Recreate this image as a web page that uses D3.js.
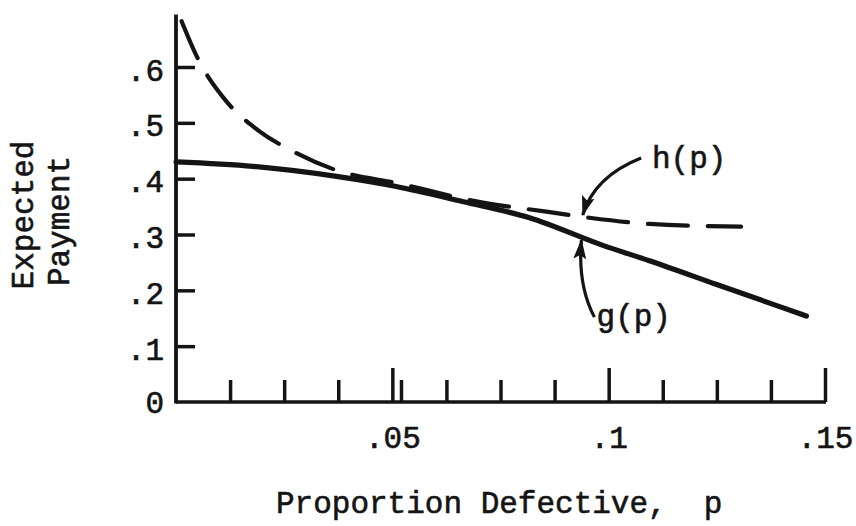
<!DOCTYPE html>
<html>
<head>
<meta charset="utf-8">
<script src="https://cdn.jsdelivr.net/npm/d3@7"></script>
<style>
  html, body { margin: 0; padding: 0; background: #fff; }
  svg { display: block; }
  text { font-family: "Liberation Mono", "Courier New", monospace; fill: #141414; stroke: #141414; stroke-width: 0.6px; }
</style>
</head>
<body>
<svg id="chart" width="856" height="526"></svg>
<script>
// Proportion defective p and expected payment for each curve
const hP = [0.0013, 0.0048, 0.0117, 0.0189, 0.0270, 0.0367, 0.0517, 0.0709, 0.0856, 0.0955, 0.1094, 0.1306];
const hValues = [0.682, 0.619, 0.538, 0.487, 0.449, 0.416, 0.391, 0.357, 0.341, 0.330, 0.319, 0.314];

const gP = [0, 0.0178, 0.0371, 0.0509, 0.0662, 0.0817, 0.0985, 0.1094, 0.1248, 0.1457];
const gValues = [0.430, 0.422, 0.404, 0.386, 0.359, 0.330, 0.281, 0.253, 0.211, 0.154];

// Axis ticks and their labels
const yTicks = [0, 0.1, 0.2, 0.3, 0.4, 0.5, 0.6];
const yTickLabels = ["0", ".1", ".2", ".3", ".4", ".5", ".6"];
const xMajorTicks = [0.05, 0.1, 0.15];
const xMajorLabels = [".05", ".1", ".15"];
const xMinorTicks = [0.0125, 0.025, 0.0375, 0.052, 0.0625, 0.075, 0.0875, 0.1125, 0.125, 0.1375];

// Curve labels: [p, value] of label text, arrow start, arrow bend, arrow tip
const hLabel = { text: "h(p)", at: [0.1100, 0.419], from: [0.1075, 0.437], bend: [0.0967, 0.404], to: [0.0940, 0.335] };
const gLabel = { text: "g(p)", at: [0.0972, 0.136], from: [0.0967, 0.152], bend: [0.0928, 0.210], to: [0.0937, 0.290] };

const svg = d3.select("#chart");
const ink = "#141414";

const x = d3.scaleLinear().domain([0, 0.15]).range([176, 825]);
const y = d3.scaleLinear().domain([0, 0.6]).range([402, 67]);

// Arrowhead marker
svg.append("defs").append("marker")
  .attr("id", "head")
  .attr("viewBox", "0 -7 20 14")
  .attr("refX", 19).attr("refY", 0)
  .attr("markerWidth", 20).attr("markerHeight", 14)
  .attr("markerUnits", "userSpaceOnUse")
  .attr("orient", "auto")
  .append("path")
  .attr("d", "M0,-6.5L20,0L0,6.5L4,0Z")
  .attr("fill", ink);

// Y axis: ticks point inward, labels on the left
const yAxis = d3.axisLeft(y)
  .tickValues(yTicks.filter(d => d > 0))
  .tickSizeInner(-19).tickSizeOuter(0).tickPadding(11)
  .tickFormat(d => yTickLabels[yTicks.indexOf(d)]);
const gy = svg.append("g").attr("transform", `translate(${x(0)},0)`).call(yAxis);
gy.select(".domain").remove();
gy.selectAll(".tick line").attr("stroke", ink).attr("stroke-width", 3.5);
gy.selectAll(".tick text").attr("font-size", 31).attr("dy", "0.42em").attr("x", -12);
// zero label sits on the corner
svg.append("text")
  .attr("x", x(0) - 12).attr("y", y(0)).attr("dy", "0.36em")
  .attr("text-anchor", "end").attr("font-size", 31)
  .text(yTickLabels[0]);

// Vertical axis line
svg.append("line")
  .attr("x1", x(0)).attr("x2", x(0))
  .attr("y1", y(0) + 1.5).attr("y2", y(0.694))
  .attr("stroke", ink).attr("stroke-width", 3.8);

// X axis: major ticks with labels, then minor ticks
const xAxis = d3.axisBottom(x)
  .tickValues(xMajorTicks)
  .tickSizeInner(-34).tickSizeOuter(0).tickPadding(24)
  .tickFormat(d => xMajorLabels[xMajorTicks.indexOf(d)]);
const gx = svg.append("g").attr("transform", `translate(0,${y(0)})`).call(xAxis);
gx.select(".domain").attr("stroke", ink).attr("stroke-width", 3.5).attr("d", `M${x(0)},0H${x(0.15) + 1}`);
gx.selectAll(".tick line").attr("stroke", ink).attr("stroke-width", 3.5);
gx.selectAll(".tick text").attr("font-size", 31).attr("y", 24).attr("dy", "0.7em");

const gxMinor = svg.append("g").attr("transform", `translate(0,${y(0)})`)
  .call(d3.axisBottom(x).tickValues(xMinorTicks).tickSizeInner(-22).tickSizeOuter(0).tickFormat(""));
gxMinor.select(".domain").remove();
gxMinor.selectAll(".tick line").attr("stroke", ink).attr("stroke-width", 3.5);

// Curves
const line = d3.line().x(d => x(d[0])).y(d => y(d[1])).curve(d3.curveMonotoneX);

svg.append("path")
  .datum(gP.map((p, i) => [p, gValues[i]]))
  .attr("d", line)
  .attr("fill", "none").attr("stroke", ink).attr("stroke-width", 5.2)
  .attr("stroke-linecap", "round");

svg.append("path")
  .datum(hP.map((p, i) => [p, hValues[i]]))
  .attr("d", line)
  .attr("fill", "none").attr("stroke", ink).attr("stroke-width", 4.2)
  .attr("stroke-dasharray", "40,20").attr("stroke-linecap", "round");

// Curve labels with arrows
[hLabel, gLabel].forEach(l => {
  svg.append("path")
    .attr("d", `M${x(l.from[0])},${y(l.from[1])}Q${x(l.bend[0])},${y(l.bend[1])} ${x(l.to[0])},${y(l.to[1])}`)
    .attr("fill", "none").attr("stroke", ink).attr("stroke-width", 3.2)
    .attr("marker-end", "url(#head)");
  svg.append("text")
    .attr("x", x(l.at[0])).attr("y", y(l.at[1]))
    .attr("font-size", 31)
    .text(l.text);
});

// Axis titles
svg.append("text")
  .attr("transform", "translate(33,215) rotate(-90)")
  .attr("text-anchor", "middle").attr("font-size", 31)
  .text("Expected");
svg.append("text")
  .attr("transform", "translate(69,221) rotate(-90)")
  .attr("text-anchor", "middle").attr("font-size", 31)
  .text("Payment");
svg.append("text")
  .attr("x", 276).attr("y", 513)
  .attr("font-size", 31)
  .text("Proportion Defective,\u00A0\u00A0p");
</script>
</body>
</html>
